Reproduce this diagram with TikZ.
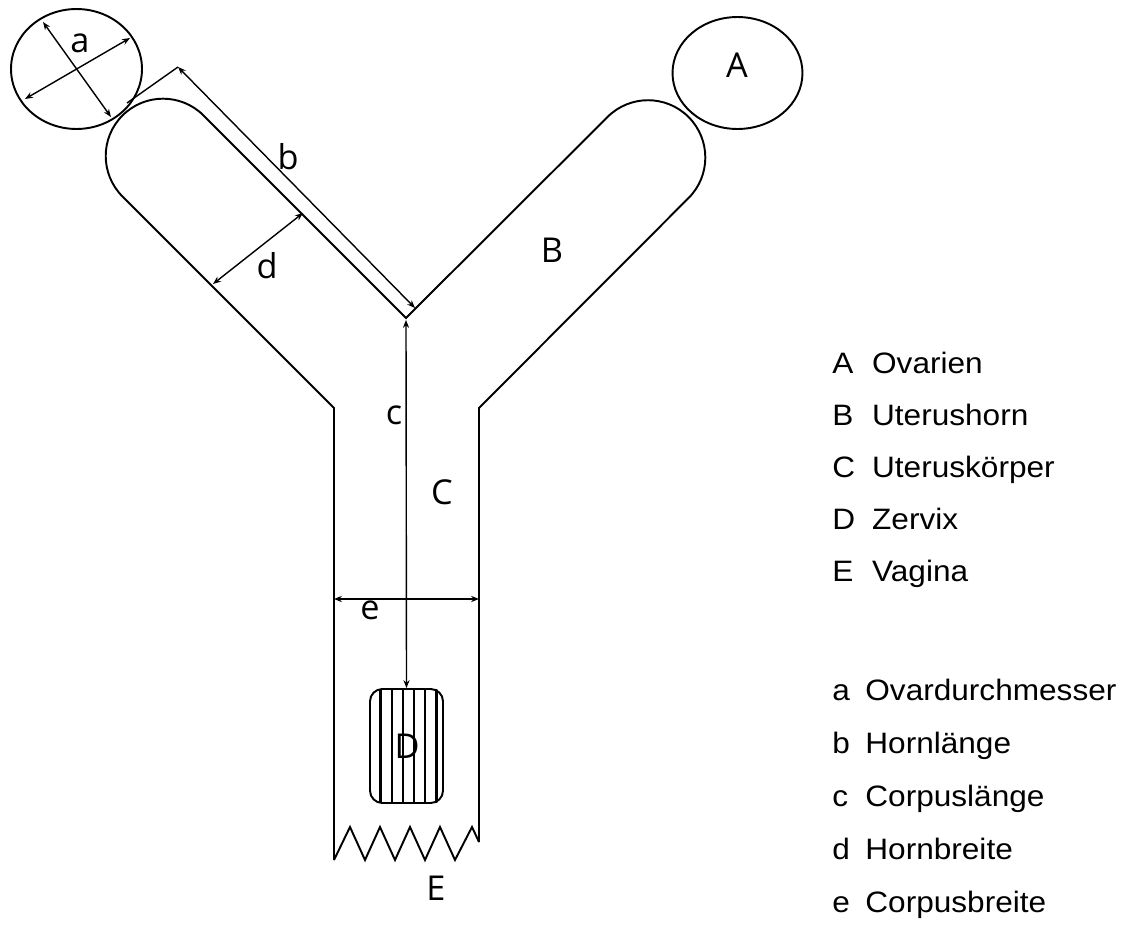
\documentclass[tikz,border=0pt]{standalone}
\usepackage{fontspec}
\setmainfont{Liberation Sans}[FakeStretch=1.07]
\newfontfamily\labelfont{Open Sans}
\usepackage{tikz}
\usetikzlibrary{matrix,positioning,arrows.meta,shapes.geometric}
\tikzstyle{organ}=[line width=1.1pt,line join=miter]
\tikzstyle{ovary}=[line width=1.1pt,ellipse,draw,inner sep=0pt]
\tikzstyle{measure}=[line width=0.8pt,{Stealth[length=4.5pt,width=3.5pt]}-{Stealth[length=4.5pt,width=3.5pt]}]
\tikzstyle{tag}=[font=\labelfont\fontsize{19.5}{23}\selectfont,inner sep=0pt]
\tikzstyle{legend}=[matrix of nodes,inner sep=0pt,anchor=north west,
  nodes={anchor=base west,inner sep=0pt,text height=12pt,text depth=4pt,
  font=\fontsize{16.8}{20}\selectfont}]

\begin{document}
\begin{tikzpicture}[x=0.02cm,y=-0.02cm]
\useasboundingbox (0,0) rectangle (1126,926);

% uterus outline, horns and body
\draw[organ] (334,860) -- (334,408) -- (122.5,196.5)
  arc[start angle=135,end angle=315,radius=57.3] -- (406,318)
  -- (607.5,117) arc[start angle=225,end angle=405,radius=57.3]
  -- (479,408) -- (479,842);
% torn edge of the vagina
\draw[organ] (479,842) -- (472,827) -- (455,860) -- (440,827) -- (425,860)
  -- (410,827) -- (395,860) -- (380,827) -- (365,860) -- (350,827) -- (334,860);

% ovaries
\node[ovary,minimum width=2.62cm,minimum height=2.4cm] (ovL) at (76.5,69) {};
\node[ovary,minimum width=2.6cm,minimum height=2.24cm] (ovR) at (737.5,73) {};

% cervix
\node[draw,line width=1.1pt,rounded corners=7pt,minimum width=1.46cm,minimum height=2.28cm] (zervix) at (406.5,746) {};
\begin{scope}
\clip[rounded corners=7pt] (zervix.south west) rectangle (zervix.north east);
\foreach \x in {380.5,391.7,402.9,414.1,425.3,436.5}
  \draw[line width=1.2pt] (\x,689) -- (\x,803);
\end{scope}

% measuring points
\coordinate (a1) at (43,22);
\coordinate (a2) at (111,117);
\coordinate (a3) at (25,99);
\coordinate (a4) at (130,38);
\coordinate (bfoot) at (127,103);
\coordinate (btop) at (178,67);
\coordinate (bend) at (415,308);
\coordinate (ctop) at (406,320);
\coordinate (cend) at (zervix.north);
\coordinate (d1) at (213,284);
\coordinate (d2) at (303,213);
\coordinate (e1) at (334,599);
\coordinate (e2) at (479,599);

\draw[measure] (a1) -- (a2);
\draw[measure] (a3) -- (a4);
\draw[line width=0.8pt] (bfoot) -- (btop);
\draw[measure] (btop) -- (bend);
\draw[measure] (ctop) -- (cend);
\draw[measure] (d1) -- (d2);
\draw[measure] (e1) -- (e2);

% labels
\node[tag] (la) at (80,43) {a};
\node[tag] (lb) at (288,157) {b};
\node[tag] (lc) at (394,415) {c};
\node[tag] (ld) at (267,266) {d};
\node[tag] (le) at (370,610) {e};
\node[tag] (lA) at (737,65) {A};
\node[tag] (lB) at (552,250) {B};
\node[tag] (lC) at (442,492) {C};
\node[tag] (lD) at (407,746) {D};
\node[tag] (lE) at (436,888) {E};

% legend
\matrix (legA) [legend,column sep=0.34cm,row sep=0.48cm] at (832,351.8)
{
  A & Ovarien \\
  B & Uterushorn \\
  C & Uteruskörper \\
  D & Zervix \\
  E & Vagina \\
};

\matrix (lega) [legend,column sep=0.31cm,row sep=0.5cm] at (832,679)
{
  a & Ovardurchmesser \\
  b & Hornlänge \\
  c & Corpuslänge \\
  d & Hornbreite \\
  e & Corpusbreite \\
};

\end{tikzpicture}
\end{document}
